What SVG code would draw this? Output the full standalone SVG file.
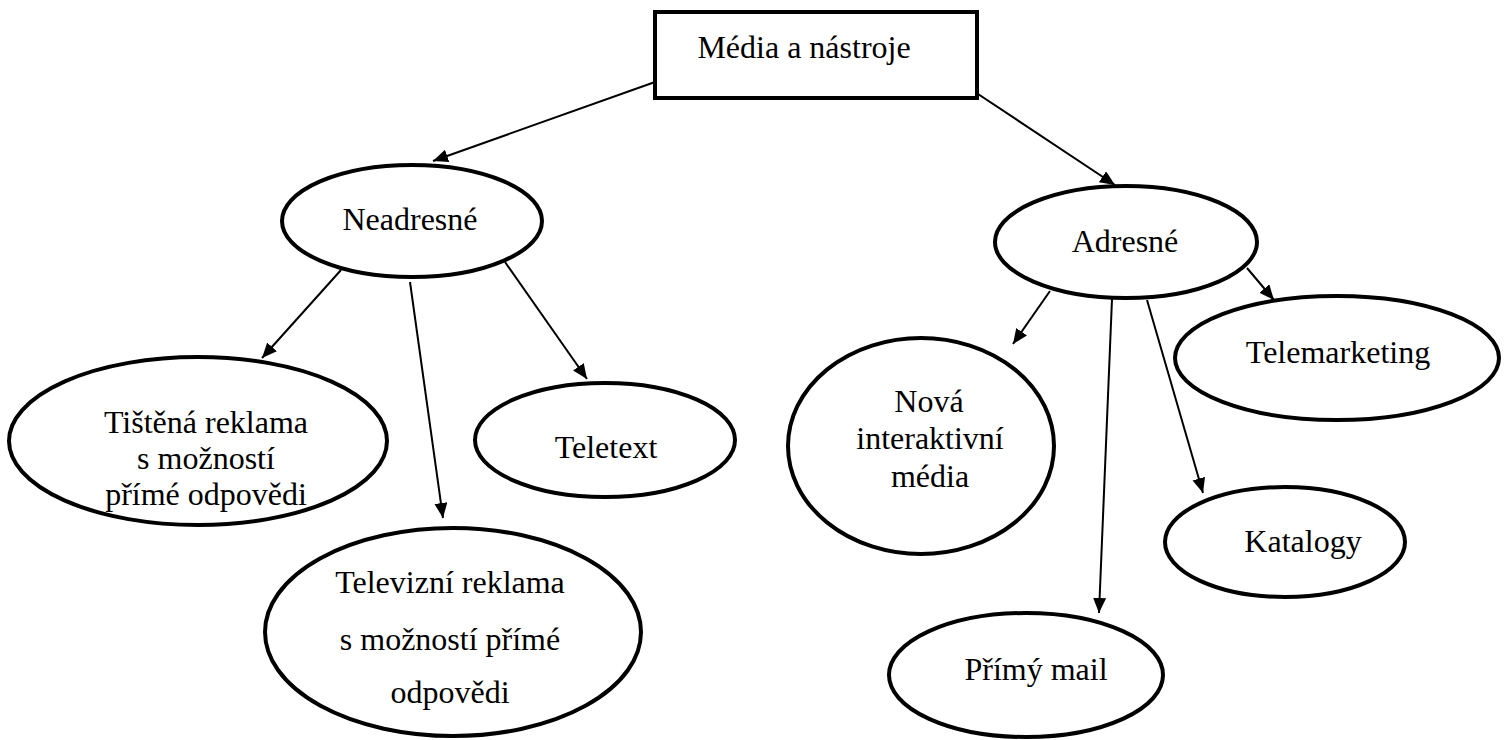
<svg xmlns="http://www.w3.org/2000/svg" width="1507" height="740" viewBox="0 0 1507 740">
<style>
.n{fill:#fff;stroke:#000;stroke-width:4}
.t{font-family:"Liberation Serif","Times New Roman",serif;font-size:32px;fill:#000;text-anchor:middle}
.c{stroke:#000;stroke-width:2;fill:none;marker-end:url(#ah)}
</style>
<defs>
<marker id="ah" markerUnits="userSpaceOnUse" markerWidth="16" markerHeight="14" refX="15" refY="6.5" orient="auto">
<path d="M0,0 L15,6.5 L0,13 z" fill="#000"/>
</marker>
</defs>
<rect width="1507" height="740" fill="#fff"/>
<g id="connectors">
<line class="c" x1="655" y1="82" x2="433" y2="161"/>
<line class="c" x1="975" y1="92" x2="1115" y2="185"/>
<line class="c" x1="341" y1="270" x2="262" y2="358"/>
<line class="c" x1="410" y1="282" x2="443" y2="518"/>
<line class="c" x1="505" y1="262" x2="587" y2="379"/>
<line class="c" x1="1050" y1="291" x2="1013" y2="344"/>
<line class="c" x1="1112" y1="299" x2="1099" y2="613"/>
<line class="c" x1="1147" y1="300" x2="1203" y2="493"/>
<line class="c" x1="1247" y1="268" x2="1274" y2="300"/>
</g>
<g id="root">
<rect class="n" x="655" y="12" width="322" height="86"/>
<text class="t" x="804" y="58">Média a nástroje</text>
</g>
<g id="neadresne">
<ellipse class="n" cx="412" cy="221" rx="130" ry="56"/>
<text class="t" x="410" y="230">Neadresné</text>
</g>
<g id="adresne">
<ellipse class="n" cx="1126" cy="242" rx="131" ry="56"/>
<text class="t" x="1125" y="252">Adresné</text>
</g>
<g id="tistena">
<ellipse class="n" cx="198" cy="441" rx="189" ry="84"/>
<text class="t" x="206" y="433">Tištěná reklama</text>
<text class="t" x="206" y="469">s možností</text>
<text class="t" x="206" y="505">přímé odpovědi</text>
</g>
<g id="televizni">
<ellipse class="n" cx="453" cy="632" rx="188" ry="104"/>
<text class="t" x="450" y="593">Televizní reklama</text>
<text class="t" x="450" y="650">s možností přímé</text>
<text class="t" x="450" y="703">odpovědi</text>
</g>
<g id="teletext">
<ellipse class="n" cx="605" cy="440" rx="130" ry="57"/>
<text class="t" x="606" y="458">Teletext</text>
</g>
<g id="nova">
<ellipse class="n" cx="921" cy="446" rx="133" ry="108"/>
<text class="t" x="929" y="412">Nová</text>
<text class="t" x="930" y="449">interaktivní</text>
<text class="t" x="930" y="487">média</text>
</g>
<g id="primy">
<ellipse class="n" cx="1026" cy="675" rx="137" ry="62"/>
<text class="t" x="1036" y="680">Přímý mail</text>
</g>
<g id="katalogy">
<ellipse class="n" cx="1285" cy="542" rx="120" ry="55"/>
<text class="t" x="1303" y="552">Katalogy</text>
</g>
<g id="telemarketing">
<ellipse class="n" cx="1337" cy="358" rx="162" ry="62"/>
<text class="t" x="1338" y="363">Telemarketing</text>
</g>
</svg>
